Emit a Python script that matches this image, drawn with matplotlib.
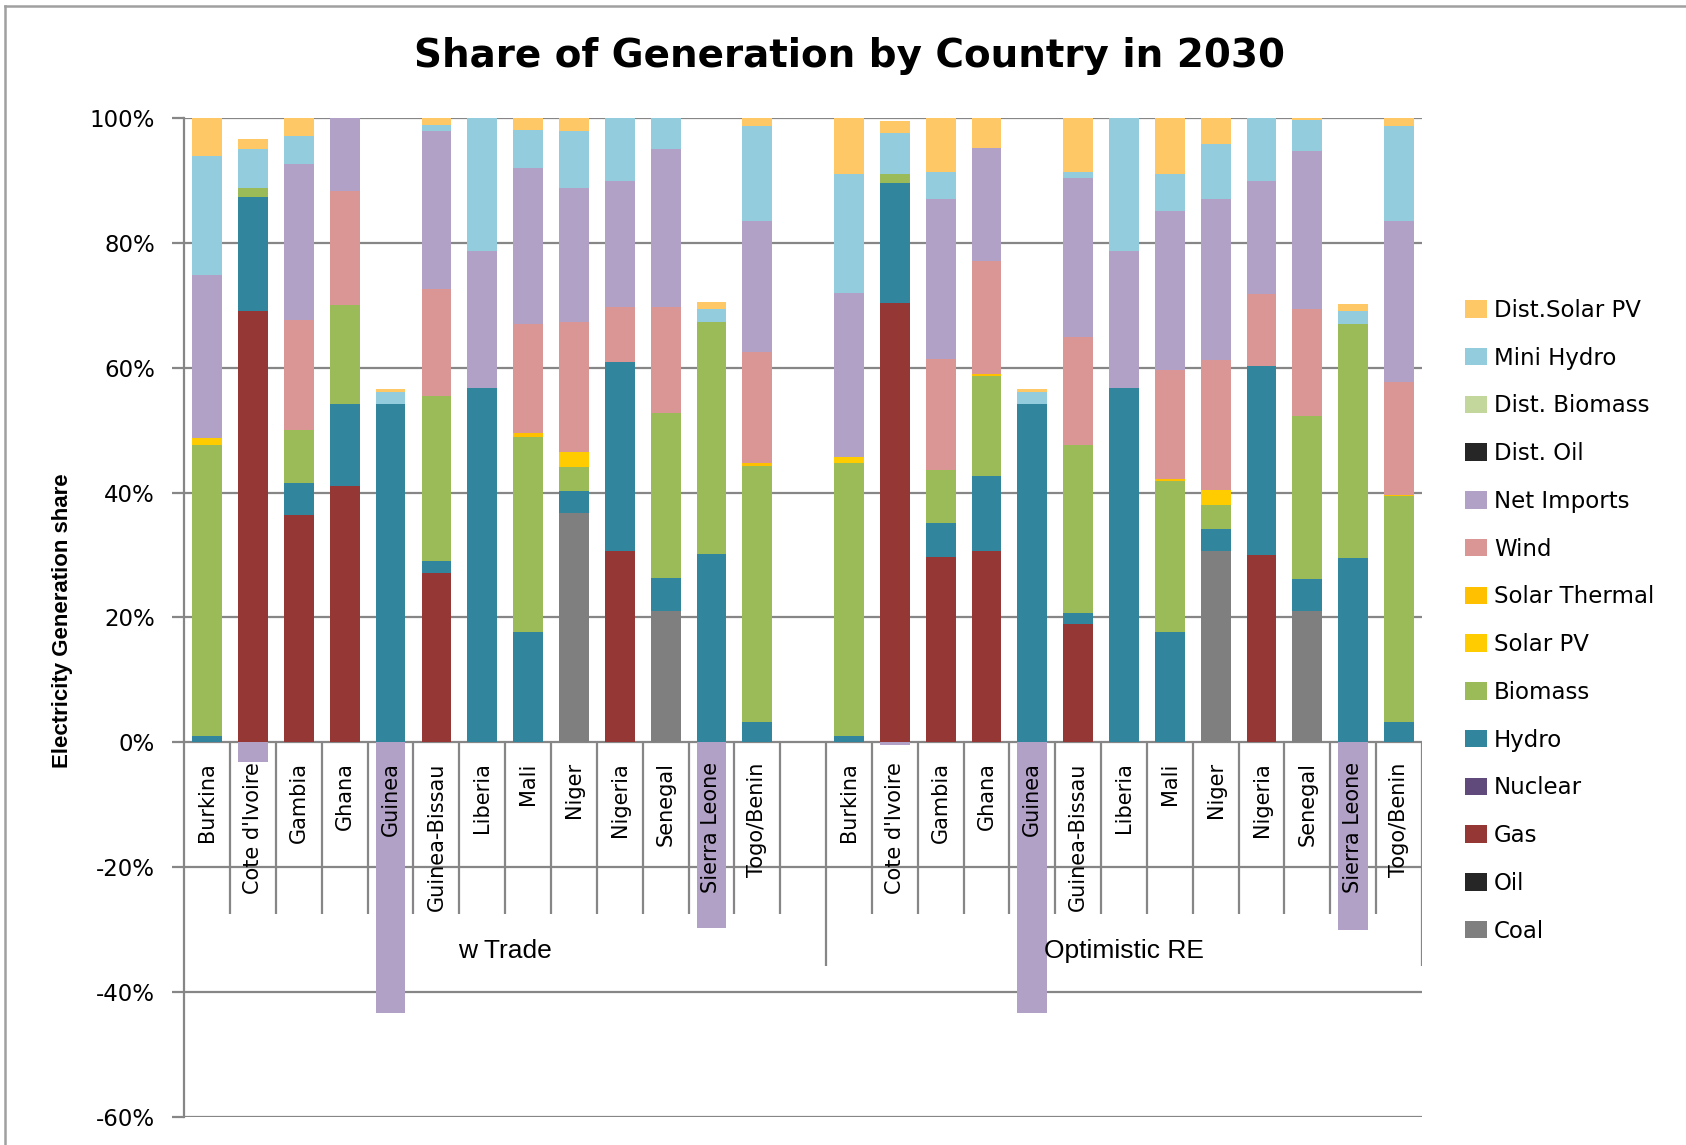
import numpy as np
import matplotlib.pyplot as plt
from matplotlib.ticker import PercentFormatter
from matplotlib.lines import Line2D

plt.rcParams['axes.unicode_minus'] = False

countries = ['Burkina', "Cote d'Ivoire", 'Gambia', 'Ghana', 'Guinea', 'Guinea-Bissau',
             'Liberia', 'Mali', 'Niger', 'Nigeria', 'Senegal', 'Sierra Leone', 'Togo/Benin']
scenarios = ['w Trade', 'Optimistic RE']

# shares in %, first 13 = w Trade, last 13 = Optimistic RE
coal = [0, 0, 0, 0, 0, 0, 0, 0, 36.7, 0, 21.1, 0, 0,
        0, 0, 0, 0, 0, 0, 0, 0, 30.6, 0, 21.1, 0, 0]
oil = [0] * 26
gas = [0, 69.1, 36.4, 41.1, 0, 27.1, 0, 0, 0, 30.6, 0, 0, 0,
       0, 70.4, 29.7, 30.6, 0, 18.9, 0, 0, 0, 30.0, 0, 0, 0]
nuclear = [0] * 26
hydro = [1.0, 18.3, 5.1, 13.1, 54.2, 1.9, 56.7, 17.6, 3.5, 30.4, 5.3, 30.2, 3.2,
         1.0, 19.3, 5.4, 12.1, 54.2, 1.8, 56.7, 17.6, 3.6, 30.3, 5.0, 29.6, 3.2]
biomass = [46.7, 1.5, 8.6, 15.9, 0, 26.5, 0, 31.4, 3.9, 0, 26.3, 37.1, 41.0,
           43.8, 1.4, 8.6, 16.0, 0, 27.0, 0, 24.3, 3.8, 0, 26.2, 37.4, 36.2]
solar_pv = [1.0, 0, 0, 0, 0, 0, 0, 0, 2.5, 0, 0, 0, 0,
            0.9, 0, 0, 0, 0, 0, 0, 0, 2.5, 0, 0, 0, 0]
solar_thermal = [0, 0, 0, 0, 0, 0, 0, 0.5, 0, 0, 0, 0, 0.6,
                 0, 0, 0, 0.3, 0, 0, 0, 0.3, 0, 0, 0, 0, 0.3]
wind = [0, 0, 17.6, 18.3, 0, 17.2, 0, 17.5, 20.7, 8.8, 17.1, 0, 17.7,
        0, 0, 17.8, 18.2, 0, 17.3, 0, 17.5, 20.7, 11.5, 17.2, 0, 18.0]
net_imports = [26.2, -3.1, 25.0, 11.6, -43.4, 25.2, 22.0, 25.0, 21.6, 20.2, 25.2, -29.8, 21.0,
               26.3, -0.4, 25.5, 18.1, -43.4, 25.5, 22.0, 25.4, 25.8, 18.2, 25.2, -30.0, 25.8]
dist_oil = [0] * 26
dist_biomass = [0] * 26
mini_hydro = [19.1, 6.1, 4.5, 0, 2.0, 1.0, 21.3, 6.2, 9.0, 10.0, 5.0, 2.1, 15.3,
              19.1, 6.5, 4.4, 0, 2.0, 0.9, 21.3, 6.0, 8.9, 10.0, 5.0, 2.1, 15.3]
dist_solar = [6.0, 1.6, 2.8, 0, 0.4, 1.1, 0, 1.8, 2.1, 0, 0, 1.1, 1.2,
              8.9, 1.9, 8.6, 4.7, 0.4, 8.6, 0, 8.9, 4.1, 0, 0.3, 1.1, 1.2]

series = [('Coal', coal, '#7f7f7f'), ('Oil', oil, '#262626'), ('Gas', gas, '#953735'),
          ('Nuclear', nuclear, '#604a7b'), ('Hydro', hydro, '#31859c'),
          ('Biomass', biomass, '#9bbb59'), ('Solar PV', solar_pv, '#ffcc00'),
          ('Solar Thermal', solar_thermal, '#ffc000'), ('Wind', wind, '#d99694'),
          ('Net Imports', net_imports, '#b2a1c7'), ('Dist. Oil', dist_oil, '#262626'),
          ('Dist. Biomass', dist_biomass, '#c3d69b'), ('Mini Hydro', mini_hydro, '#93cddd'),
          ('Dist.Solar PV', dist_solar, '#fdc865')]

x = np.r_[np.arange(13), np.arange(13) + 14]
grey = '#868686'

fig = plt.figure(figsize=(16.86, 11.45), dpi=100)
ax = fig.add_axes([0.1093, 0.0247, 0.8434 - 0.1093, 0.8967 - 0.0247])

pos = np.zeros(26)
neg = np.zeros(26)
handles = []
for name, vals, col in series:
    v = np.array(vals, dtype=float)
    bottom = np.where(v >= 0, pos, neg)
    b = ax.bar(x, v, 0.65, bottom=bottom, color=col, label=name, zorder=2)
    handles.append(b)
    pos += np.where(v >= 0, v, 0)
    neg += np.where(v < 0, v, 0)

ax.set_xlim(-0.5, 26.5)
ax.set_ylim(-60, 100)
ax.set_yticks(np.arange(-60, 101, 20))
ax.yaxis.set_major_formatter(PercentFormatter(decimals=0))
ax.grid(axis='y', color=grey, lw=1.6)
ax.set_axisbelow(True)
ax.set_xticks([])
ax.tick_params(axis='y', length=9, width=1.6, color=grey, pad=12, labelsize=16.5)
for s in ['top', 'right', 'bottom']:
    ax.spines[s].set_visible(False)
ax.spines['left'].set_color(grey)
ax.spines['left'].set_linewidth(1.6)

# category axis drawn at 0%
for xi, name in zip(x, countries * 2):
    ax.text(xi, -3.2, name, rotation=90, ha='center', va='top', fontsize=15, zorder=5)
short = [i + 0.5 for i in range(13)] + [i + 14.5 for i in range(12)]
ax.vlines(short, -27.5, 0, color=grey, lw=1.6, zorder=1)
ax.vlines([13.5, 26.5], -35.8, 0, color=grey, lw=1.6, zorder=1)
for cx, sc in zip([6.5, 20], scenarios):
    ax.text(cx, -33.4, sc, ha='center', va='center', fontsize=19,
            family='Liberation Sans', zorder=5)

fig.text(0.504, 0.951, 'Share of Generation by Country in 2030', ha='center', va='center',
         fontsize=28, fontweight='bold')
fig.text(0.0368, 0.4577, 'Electricity Generation share', rotation=90, ha='center', va='center',
         fontsize=16, fontweight='bold', family='Liberation Sans')

fig.legend(handles[::-1], [s[0] for s in series[::-1]], loc='upper left',
           bbox_to_anchor=(0.869, 0.739), frameon=False, fontsize=16.5,
           handlelength=0.95, handleheight=0.8, handletextpad=0.3, labelspacing=1.08,
           borderpad=0, borderaxespad=0)

# chart area border
fig.add_artist(Line2D([0.003, 0.003], [0, 0.9948], color='#a0a0a0', lw=1.8))
fig.add_artist(Line2D([0.003, 1], [0.9948, 0.9948], color='#a0a0a0', lw=1.8))

fig.savefig('out.png', dpi=100)
